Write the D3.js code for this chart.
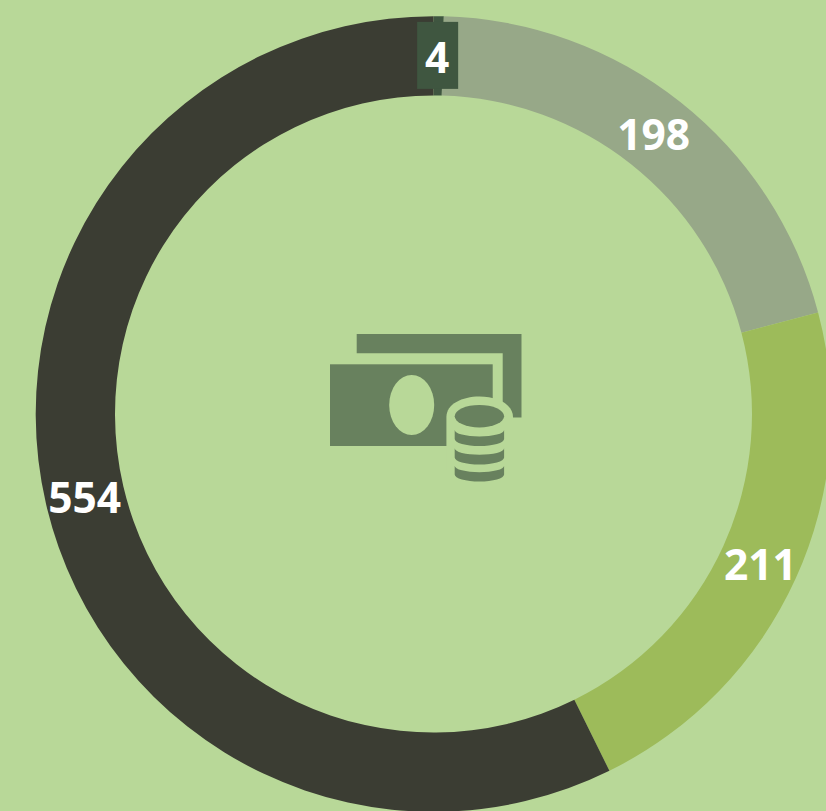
<!DOCTYPE html>
<html><head><meta charset="utf-8">
<script src="https://cdn.jsdelivr.net/npm/d3@7/dist/d3.min.js"></script>
<style>html,body{margin:0;padding:0;background:#B8D898;overflow:hidden}svg{display:block}</style>
</head><body><svg id="c" width="826" height="811"></svg>
<script>
const categories = ["A","B","C","D"];
const values = [4,198,211,554];
const colors = ["#3F5640","#97A888","#9DBB5A","#3B3D33"];

const W=826,H=811,cx=433.5,cy=414,rOuter=397.8,rInner=318.5;
const svg=d3.select("#c");
svg.append("rect").attr("width",W).attr("height",H).attr("fill","#B8D898");
const pie=d3.pie().value(d=>d).sort(null);
const arc=d3.arc().innerRadius(rInner).outerRadius(rOuter);
const g=svg.append("g").attr("transform",`translate(${cx},${cy})`);
const arcs=pie(values);
g.selectAll("path").data(arcs).join("path").attr("d",arc).attr("fill",(d,i)=>colors[i]);

// label plate for the small slice
const font="'Open Sans',sans-serif";
const c0=arc.centroid(arcs[0]);
g.append("rect").attr("x",c0[0]-21).attr("y",c0[1]-34).attr("width",41).attr("height",67).attr("fill","#3F5640");
const labelShiftX=[-1,-2,1,0];
g.selectAll("text").data(arcs).join("text")
 .attr("transform",d=>{const c=arc.centroid(d);return `translate(${c[0]+labelShiftX[d.index]},${c[1]+2})`;})
 .attr("text-anchor","middle").attr("dy","0.36em")
 .attr("font-family",font).attr("font-weight",700).attr("font-size",42.5).attr("fill","#fff")
 .text(d=>d.value);

// banknote + coins icon
const bg="#B8D898",ic="#68815E";
const icon=svg.append("g");
icon.append("path").attr("fill",ic).attr("d","M356.7 334H521.5V417.5H502.7V353.3H356.7Z");
icon.append("rect").attr("fill",ic).attr("x",330).attr("y",364.3).attr("width",162.7).attr("height",81.7);
icon.append("ellipse").attr("fill",bg).attr("cx",411.7).attr("cy",405).attr("rx",22.5).attr("ry",30);
icon.append("path").attr("fill",bg).attr("d","M446.4 417C446.4 404 462 396.5 479.5 396.5C497 396.5 513 404 513 417V470H446.4Z");
icon.append("ellipse").attr("fill",ic).attr("cx",479.4).attr("cy",416.2).attr("rx",24.7).attr("ry",11.2);
[[430,439],[448.3,457.5],[465.7,474.5]].forEach(([t,b])=>{
  icon.append("path").attr("fill",ic).attr("d",`M454.7 ${t}A24.7 6.5 0 0 0 504.1 ${t}V${b}A24.7 7 0 0 1 454.7 ${b}Z`);
});
</script></body></html>
